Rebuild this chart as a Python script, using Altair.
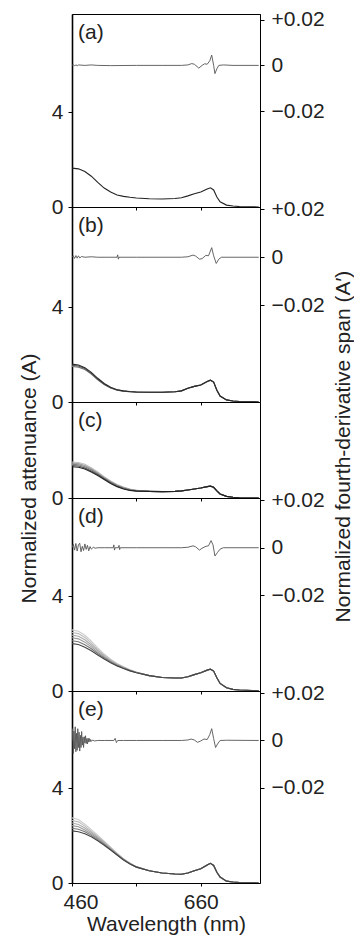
import altair as alt
import pandas as pd

FONT = "Liberation Sans"
FS = 21

# ---------------- data ----------------
WL = [460, 470, 480, 490, 500, 510, 520, 530, 540, 550, 560, 580, 600, 620,
      630, 640, 650, 660, 670, 675, 680, 685, 690, 700, 710, 720, 740, 750]

a_A = [1.64, 1.61, 1.50, 1.30, 1.04, 0.80, 0.63, 0.51, 0.45, 0.41, 0.38, 0.35, 0.34, 0.36,
       0.39, 0.47, 0.56, 0.63, 0.76, 0.81, 0.72, 0.42, 0.22, 0.08, 0.04, 0.02, 0.01, 0.0]

b_tail = [0.41, 0.41, 0.43, 0.47, 0.58, 0.66, 0.72, 0.86, 0.92, 0.84, 0.50, 0.25, 0.09, 0.04, 0.02, 0.01, 0.0]
b_A1 = [1.60, 1.56, 1.45, 1.25, 1.00, 0.78, 0.62, 0.52, 0.47, 0.44, 0.42] + b_tail
b_A2 = [1.55, 1.52, 1.41, 1.21, 0.96, 0.75, 0.60, 0.51, 0.46, 0.43, 0.42] + b_tail
b_A3 = [1.50, 1.47, 1.37, 1.18, 0.94, 0.74, 0.59, 0.50, 0.46, 0.43, 0.41] + b_tail

c_tail = [0.28, 0.27, 0.28, 0.30, 0.34, 0.38, 0.42, 0.48, 0.50, 0.45, 0.30, 0.17, 0.07, 0.03, 0.01, 0.0, 0.0]
c_A1 = [1.52, 1.50, 1.42, 1.28, 1.10, 0.90, 0.72, 0.57, 0.46, 0.38, 0.33] + c_tail
c_A2 = [1.47, 1.45, 1.37, 1.23, 1.06, 0.87, 0.70, 0.55, 0.44, 0.37, 0.32] + c_tail
c_A3 = [1.42, 1.40, 1.32, 1.19, 1.03, 0.84, 0.67, 0.53, 0.42, 0.35, 0.31] + c_tail
c_A4 = [1.37, 1.35, 1.27, 1.14, 0.99, 0.81, 0.64, 0.50, 0.40, 0.33, 0.30] + c_tail
c_A5 = [1.32, 1.30, 1.22, 1.10, 0.95, 0.78, 0.61, 0.48, 0.38, 0.32, 0.29] + c_tail

d_tail = [0.65, 0.57, 0.55, 0.55, 0.60, 0.69, 0.77, 0.88, 0.92, 0.84, 0.56, 0.32, 0.14, 0.07, 0.04, 0.02, 0.01]
d_A1 = [2.58, 2.52, 2.35, 2.10, 1.82, 1.56, 1.34, 1.16, 1.02, 0.90, 0.80] + d_tail
d_A2 = [2.47, 2.42, 2.26, 2.02, 1.76, 1.51, 1.31, 1.14, 1.01, 0.89, 0.79] + d_tail
d_A3 = [2.36, 2.31, 2.16, 1.94, 1.70, 1.47, 1.28, 1.12, 0.99, 0.88, 0.79] + d_tail
d_A4 = [2.25, 2.20, 2.06, 1.86, 1.64, 1.43, 1.25, 1.10, 0.98, 0.87, 0.78] + d_tail
d_A5 = [2.12, 2.08, 1.95, 1.78, 1.58, 1.39, 1.22, 1.08, 0.96, 0.86, 0.78] + d_tail
d_A6 = [2.00, 1.96, 1.85, 1.70, 1.52, 1.35, 1.19, 1.06, 0.95, 0.85, 0.77] + d_tail

e_tail = [0.52, 0.42, 0.38, 0.37, 0.42, 0.52, 0.60, 0.76, 0.83, 0.74, 0.45, 0.25, 0.08, 0.04, 0.02, 0.01, 0.0]
e_A1 = [2.75, 2.68, 2.48, 2.25, 2.02, 1.77, 1.51, 1.26, 1.03, 0.84, 0.69] + e_tail
e_A2 = [2.64, 2.58, 2.40, 2.19, 1.97, 1.73, 1.49, 1.24, 1.02, 0.83, 0.69] + e_tail
e_A3 = [2.53, 2.47, 2.32, 2.13, 1.92, 1.70, 1.46, 1.23, 1.01, 0.82, 0.68] + e_tail
e_A4 = [2.42, 2.37, 2.24, 2.07, 1.88, 1.66, 1.44, 1.21, 0.99, 0.82, 0.68] + e_tail
e_A5 = [2.31, 2.27, 2.16, 2.01, 1.83, 1.63, 1.41, 1.19, 0.98, 0.81, 0.67] + e_tail
e_A6 = [2.20, 2.16, 2.08, 1.95, 1.78, 1.59, 1.39, 1.18, 0.97, 0.80, 0.67] + e_tail

# fourth-derivative traces
a_dwl = [460, 462, 464, 466, 468, 470, 480, 490, 500, 520, 560, 600, 630, 640, 646, 650,
         657, 662, 666, 670, 674, 677, 680, 682, 685, 688, 695, 710, 750]
a_d = [0.0, 0.0004, -0.0003, 0.0003, -0.0002, 0.0002, 0.0, 0.0002, 0.0, -0.0001, 0.0, 0.0, 0.0, 0.0002, 0.0008, 0.0005,
       -0.0012, 0.0, 0.0007, 0.0005, 0.0020, 0.0045, 0.0, -0.0036, -0.0015, 0.0, 0.0002, 0.0, 0.0]

b_dwl = [460, 462, 464, 466, 468, 470, 472, 475, 480, 490, 500, 530, 531, 532, 533, 560, 600, 630, 640,
         648, 652, 658, 662, 668, 672, 677, 680, 684, 688, 692, 750]
b_d = [0.0, 0.0006, -0.0005, 0.0007, -0.0004, 0.0006, -0.0003, 0.0003, 0.0, 0.0002, 0.0, 0.0, 0.0010, -0.0008, 0.0, 0.0, 0.0, 0.0, 0.0002,
       0.0009, 0.0005, -0.0008, -0.0006, 0.0008, 0.0006, 0.0040, 0.0006, -0.0026, -0.0008, 0.0, 0.0]

d_dwl = [460, 462, 464, 466, 468, 470, 472, 474, 476, 478, 480, 482, 484, 486, 488, 490, 493, 496, 500, 510,
         524, 525, 526, 527, 532, 533, 534, 535, 560, 600, 630, 640, 648, 652, 658, 662, 668, 672, 676, 679,
         682, 686, 690, 695, 750]
d_d = [0.0, 0.0015, -0.0010, 0.0018, -0.0014, 0.0012, 0.0019, -0.0017, 0.0006, -0.0012, 0.0016, -0.0007, 0.0010, -0.0013, 0.0005, -0.0006, 0.0002, -0.0002, 0.0, 0.0,
       0.0, 0.0012, -0.0010, 0.0, 0.0, 0.0010, -0.0008, 0.0, 0.0, 0.0, 0.0, 0.0002, 0.0008, 0.0004, -0.0010, -0.0002, 0.0006, 0.0008, 0.0030, 0.0012,
       -0.0035, -0.0020, -0.0006, 0.0, 0.0]

e_dwl = [460, 461, 462, 463, 464, 465, 466, 467, 468, 469, 470, 471, 472, 473, 474, 475, 476, 477, 478, 479,
         480, 481, 482, 483, 484, 485, 486, 487, 488, 489, 490, 492, 495, 500, 510, 525, 527, 529, 531, 540,
         560, 600, 630, 640, 645, 650, 655, 660, 665, 670, 674, 677, 680, 683, 686, 690, 700, 750]
e_d = [0.0, 0.0050, -0.0055, 0.0040, -0.0035, 0.0058, -0.0048, 0.0030, -0.0042, 0.0050, -0.0030, 0.0035, -0.0045, 0.0022, -0.0030, 0.0038, -0.0020, 0.0014, -0.0030, 0.0016,
       -0.0011, 0.0020, -0.0013, 0.0008, -0.0015, 0.0010, -0.0007, 0.0008, -0.0005, 0.0004, -0.0004, 0.0002, -0.0002, 0.0, 0.0, 0.0, 0.0009, -0.0009, 0.0, 0.0,
       0.0, 0.0, 0.0, 0.0002, 0.0006, 0.0002, -0.0008, -0.0002, 0.0006, 0.0004, 0.0025, 0.0050, 0.0008, -0.0030, -0.0015, 0.0, 0.0001, 0.0]

PANEL_LABELS = ["(a)", "(b)", "(c)", "(d)", "(e)"]
HEIGHTS = [193, 195, 96, 193, 192]
WIDTH = 188
XDOM = [460, 752]
RDOMS = [[-0.062, 0.0225], [-0.0605, 0.021], None, [-0.0605, 0.021], [-0.0605, 0.021]]
PX_PER_UNIT = 23.7


def lines_df(series, shades):
    rows = []
    for i, (vals, shade) in enumerate(zip(series, shades)):
        for w, v in zip(WL, vals):
            rows.append({"wl": w, "A": v, "line": i, "shade": shade})
    return pd.DataFrame(rows)


def x_enc(bottom):
    if bottom:
        ax = alt.Axis(values=[460, 560, 660], labelExpr="datum.value == 560 ? '' : datum.label",
                      title="Wavelength (nm)", tickSize=3, labelPadding=5, titlePadding=1,
                      labelFlush=True, labelFlushOffset=9, grid=False, domain=False)
    else:
        ax = alt.Axis(values=[460, 560, 660], labels=False, title=None, tickSize=3,
                      grid=False, domain=False)
    return alt.X("wl:Q", scale=alt.Scale(domain=XDOM, nice=False, zero=False), axis=ax)


def panel(idx, series, shades, deriv=None, left_title=False, right_title=False):
    h = HEIGHTS[idx]
    bottom = idx == 4
    left_vals = [0] if h < 150 else [0, 4]
    laxis = dict(orient="left", values=left_vals, grid=False, tickSize=4, labelPadding=5,
                 domainWidth=1.6, format="d")
    if left_title:
        laxis.update(title="Normalized attenuance (A)", titlePadding=12, titleAngle=270, titleY=76)
    else:
        laxis.update(title=None)
    absl = alt.Chart(lines_df(series, shades)).mark_line(strokeWidth=1.1, clip=True).encode(
        x=x_enc(bottom),
        y=alt.Y("A:Q", scale=alt.Scale(domain=[0, h / PX_PER_UNIT], nice=False, zero=False),
                axis=alt.Axis(**laxis)),
        detail="line:N",
        color=alt.Color("shade:N", scale=None),
        order="line:Q",
    )
    layers = [absl]
    if deriv is not None:
        dwl, dv = deriv
        ddf = pd.DataFrame({"wl": dwl, "D": dv})
        derl = alt.Chart(ddf).mark_line(strokeWidth=0.9, color="#555555", clip=True).encode(
            x=x_enc(bottom),
            y=alt.Y("D:Q", scale=alt.Scale(domain=RDOMS[idx], nice=False, zero=False),
                    axis=alt.Axis(orient="right", values=[0.02, 0, -0.02], title=None, grid=False,
                                  tickSize=4, labelPadding=7,
                                  labelExpr="datum.value > 0.001 ? '+0.02' : (datum.value < -0.001 ? '\u22120.02' : '\u20070')")),
        )
        layers.append(derl)
    if right_title:
        dummy = alt.Chart(pd.DataFrame({"D": [0.0]})).mark_point(opacity=0).encode(
            y=alt.Y("D:Q", scale=alt.Scale(domain=[-1, 1]),
                    axis=alt.Axis(orient="right", labels=False, ticks=False, domain=False, grid=False,
                                  title="Normalized fourth-derivative span (A\u2032)",
                                  titleAngle=270, titlePadding=93, titleY=44)),
        )
        layers.append(dummy)
    txt = alt.Chart(pd.DataFrame({"t": [PANEL_LABELS[idx]]})).mark_text(
        align="left", baseline="middle", fontSize=FS, font=FONT, color="#222").encode(
        x=alt.value(6), y=alt.value(19), text="t:N")
    layers.append(txt)
    return alt.layer(*layers).resolve_scale(y="independent").properties(width=WIDTH, height=h)


pa = panel(0, [a_A], ["#222222"], deriv=(a_dwl, a_d))
pb = panel(1, [b_A3, b_A2, b_A1], ["#777777", "#555555", "#2a2a2a"], deriv=(b_dwl, b_d))
pc = panel(2, [c_A1, c_A2, c_A3, c_A4, c_A5], ["#c0c0c0", "#a0a0a0", "#808080", "#555555", "#222222"],
           left_title=True, right_title=True)
pd_ = panel(3, [d_A1, d_A2, d_A3, d_A4, d_A5, d_A6],
            ["#cccccc", "#bbbbbb", "#aaaaaa", "#999999", "#777777", "#444444"], deriv=(d_dwl, d_d))
pe = panel(4, [e_A1, e_A2, e_A3, e_A4, e_A5, e_A6],
           ["#cccccc", "#bbbbbb", "#aaaaaa", "#999999", "#777777", "#444444"], deriv=(e_dwl, e_d))

chart = alt.vconcat(pa, pb, pc, pd_, pe, spacing=0, bounds="flush").properties(
    padding={"left": 9, "top": 0, "right": 0, "bottom": 0},
    background="white",
).configure_view(stroke="black", strokeWidth=1).configure_axis(
    labelFont=FONT, titleFont=FONT, labelFontSize=FS, titleFontSize=FS,
    labelColor="#222", titleColor="#222", domainColor="black", tickColor="black",
    titleFontWeight="normal"
)

chart.save("out.html", embed_options={"renderer": "svg", "actions": False})
